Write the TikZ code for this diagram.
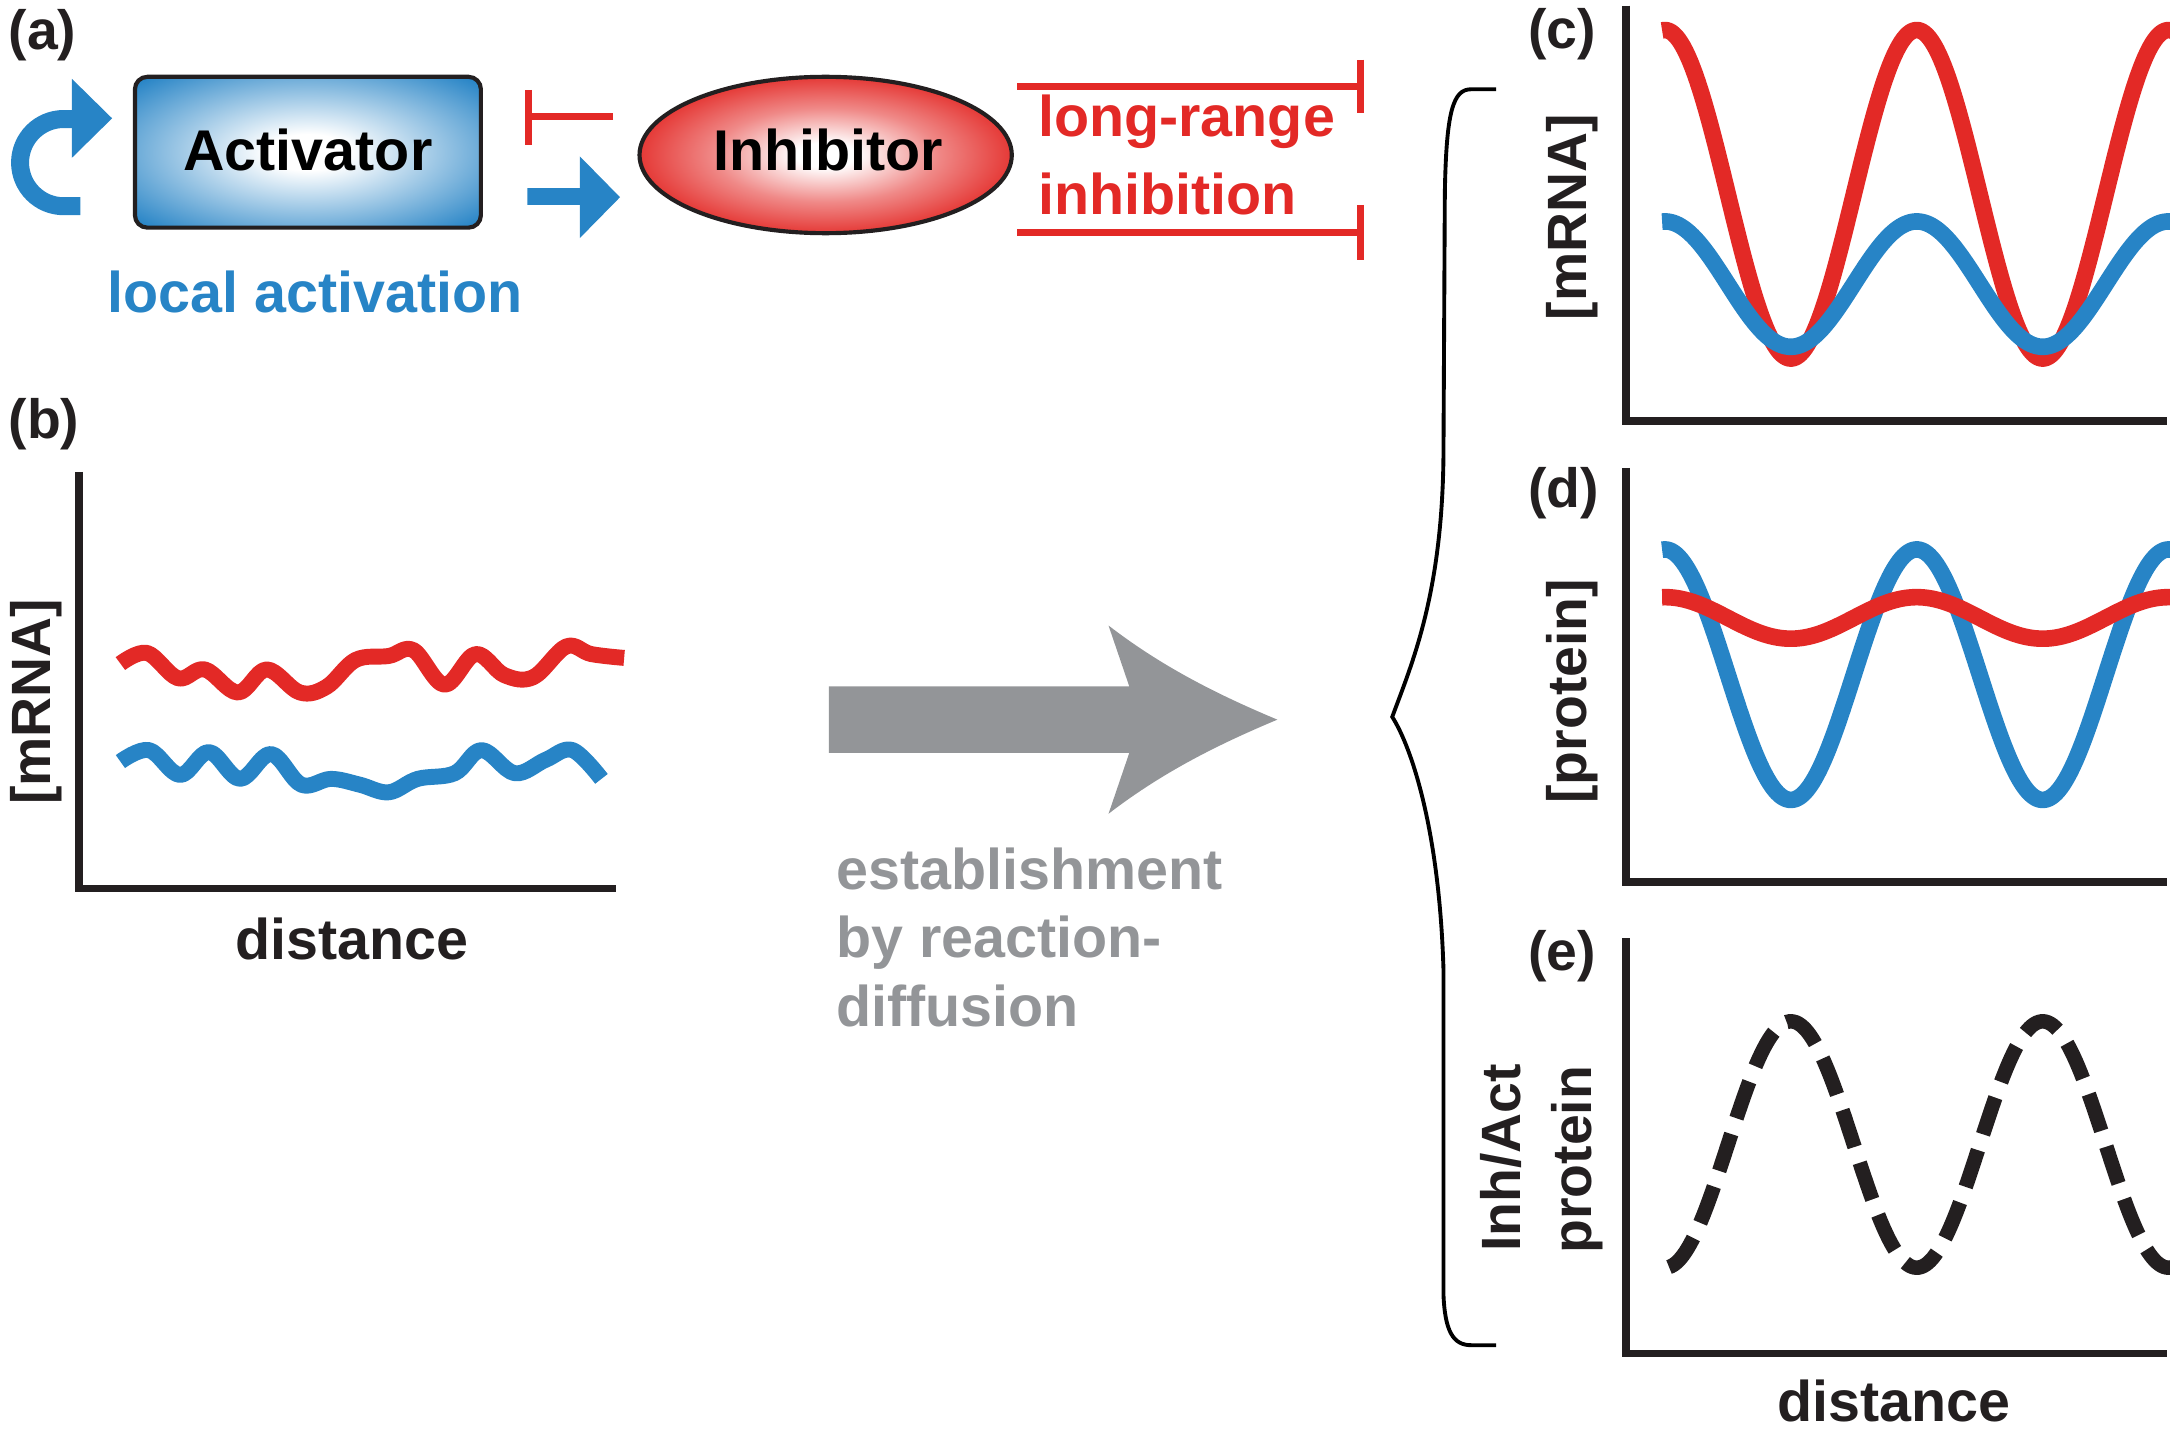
\documentclass[tikz,border=0pt]{standalone}
\usepackage{fontspec}
\setmainfont{Liberation Sans}
\usetikzlibrary{shapes.geometric}
\definecolor{myblue}{RGB}{39,132,198}
\definecolor{myred}{RGB}{227,41,38}
\definecolor{mygray}{RGB}{147,149,152}
\definecolor{myblack}{RGB}{35,31,32}
\colorlet{myblueL}{myblue!50!white}
\colorlet{myredL}{myred!55!white}
\pgfdeclareradialshading{actshade}{\pgfpoint{0bp}{0bp}}{color(0bp)=(white); color(6bp)=(white); color(20bp)=(myblueL); color(34bp)=(myblue); color(50bp)=(myblue)}
\pgfdeclareradialshading{inhshade}{\pgfpoint{0bp}{0bp}}{color(0bp)=(white); color(4bp)=(white); color(15bp)=(myredL); color(27bp)=(myred); color(50bp)=(myred)}
\tikzset{
  lbl/.style={inner sep=0pt, font=\fontsize{41.5pt}{50pt}\selectfont\bfseries},
  axl/.style={inner sep=0pt, font=\fontsize{40pt}{48pt}\selectfont\bfseries, text=myblack},
  axisline/.style={draw=myblack, line width=5.5pt},
  curve/.style={line width=12pt, line join=round},
  inhbar/.style={draw=myred, line width=5pt},
}
\begin{document}
\begin{tikzpicture}[x=1pt,y=-1pt]
\useasboundingbox (0,0) rectangle (1568,1046);

% panel labels
\node[axl, anchor=base west] (la) at (6,36) {(a)};
\node[axl, anchor=base west] (lb) at (6,317) {(b)};
\node[axl, anchor=base west] (lc) at (1104,35) {(c)};
\node[axl, anchor=base west] (ld) at (1104,367) {(d)};
\node[axl, anchor=base west] (le) at (1104,701) {(e)};

% (a) activator / inhibitor
\node[draw=myblack, line width=3pt, rounded corners=9pt, minimum width=250pt, minimum height=109pt, inner sep=0pt, shade, shading=actshade] (act) at (222.5,110) {};
\node[lbl, text=black, anchor=base] (acttxt) at (222.5,123) {Activator};
\node[ellipse, draw=myblack, line width=3pt, minimum width=269pt, minimum height=113pt, inner sep=0pt, shade, shading=inhshade] (inh) at (596.6,112) {};
\node[lbl, text=black, anchor=base] (inhtxt) at (598.5,123) {Inhibitor};

% self activation
\fill[myblue] (52,57) -- (81,85.5) -- (52,114) -- cycle;
\draw[myblue, line width=13pt] (58,149) -- (46,149) .. controls (28.6,149) and (14.5,134.9) .. (14.5,117.5) .. controls (14.5,100.1) and (28.6,86) .. (46,86) -- (53,86);

% activation arrow
\fill[myblue] (381,136) -- (419,136) -- (419,113) -- (448,142.5) -- (419,172) -- (419,148) -- (381,148) -- cycle;

% inhibition T
\coordinate (ta) at (443,84.5);
\coordinate (tb) at (382,84.5);
\draw[inhbar] (ta) -- (tb);
\draw[inhbar] (382,65) -- (382,105);

% long range
\draw[inhbar] (735,62.5) -- (983,62.5);
\draw[inhbar] (983,43) -- (983,82);
\draw[inhbar] (735,168) -- (983,168);
\draw[inhbar] (983,148) -- (983,188);
\node[lbl, text=myred, anchor=base west] (lr1) at (750,98.5) {long-range};
\node[lbl, text=myred, anchor=base west] (lr2) at (750,155) {inhibition};
\node[lbl, text=myblue, anchor=base west] (lact) at (77.5,226) {local activation};

% (b)
\draw[axisline] (57,341) -- (57,642) -- (445,642);
\node[axl, rotate=90, anchor=base] (ylb) at (36.5,507) {[mRNA]};
\node[lbl, text=myblack, anchor=base] (xlb) at (254,693) {distance};
\draw[myred, line width=11.5pt, line join=round] plot[smooth, tension=0.6] coordinates {
 (87,479.5) (106.3,471.8) (128.6,490.1) (148,483.7) (171.9,500.4) (192.8,483.7) (216.7,500.4) (236.1,496.2) (257,476.8) (280.9,474) (298.8,469.8) (321.2,494.8) (343.6,472.6) (364.5,487.9) (385.4,489.3) (409.2,467.1) (427.1,472.6) (451,475.4)};
\draw[myblue, line width=11.5pt, line join=round] plot[smooth, tension=0.6] coordinates {
 (87,550.3) (107.7,542) (130.1,560) (151,543.4) (173.4,562.8) (195.8,544.8) (217.7,567) (239.1,562.8) (260,567) (280.9,572.5) (301.8,562.8) (328.6,558.7) (348,542) (371.9,558.7) (394.3,549) (413.7,542) (434.6,562.8)};

% gray arrow
\fill[mygray] (599,496) -- (816,496) -- (801,452) .. controls (840,482) and (880,502) .. (923,520) .. controls (880,538) and (840,558) .. (801,588) -- (816,544) -- (599,544) -- cycle;
\node[lbl, text=mygray, anchor=base west] (t1) at (604,643) {establishment};
\node[lbl, text=mygray, anchor=base west] (t2) at (604,692) {by reaction-};
\node[lbl, text=mygray, anchor=base west] (t3) at (604,742) {diffusion};

% brace
\draw[black, line width=2.8pt] (1081,64.5) -- (1063,64.5) .. controls (1050,64.5) and (1045,80) .. (1044,140) -- (1043,330) .. controls (1042,430) and (1020,480) .. (1006,518) .. controls (1020,540) and (1040,600) .. (1043,700) -- (1043,935) .. controls (1044,962) and (1050,972) .. (1063,972) -- (1081,972);

% (c)
\draw[axisline] (1175,4) -- (1175,304) -- (1566,304);
\node[axl, rotate=90, anchor=base] (ylc) at (1146.5,157) {[mRNA]};
\draw[myred, curve] plot[domain=1201:1572, samples=220, variable=\t] ({\t},{140.4-118.7*cos(1.978022*(\t-1203))});
\draw[myblue, curve] plot[domain=1201:1572, samples=220, variable=\t] ({\t},{205.3-45.3*cos(1.978022*(\t-1203))});

% (d)
\draw[axisline] (1175,338) -- (1175,637.5) -- (1566,637.5);
\node[axl, rotate=90, anchor=base] (yld) at (1146.5,499.5) {[protein]};
\draw[myblue, curve] plot[domain=1201:1572, samples=220, variable=\t] ({\t},{487.5-90.5*cos(1.978022*(\t-1203))});
\draw[myred, curve] plot[domain=1201:1572, samples=220, variable=\t] ({\t},{446.5-15*cos(1.978022*(\t-1203))});

% (e)
\draw[axisline] (1175,678) -- (1175,978) -- (1566,978);
\node[axl, rotate=90, anchor=base] (yle1) at (1098.4,836.5) {Inh/Act};
\node[axl, rotate=90, anchor=base] (yle2) at (1150,838) {protein};
\node[lbl, text=myblack, anchor=base] (xle) at (1368.5,1027) {distance};
\draw[myblack, line width=10.5pt, dash pattern=on 28pt off 12pt] plot[domain=1206:1572, samples=220, variable=\t] ({\t},{827+89*cos(1.978022*(\t-1203))});
\end{tikzpicture}
\end{document}
